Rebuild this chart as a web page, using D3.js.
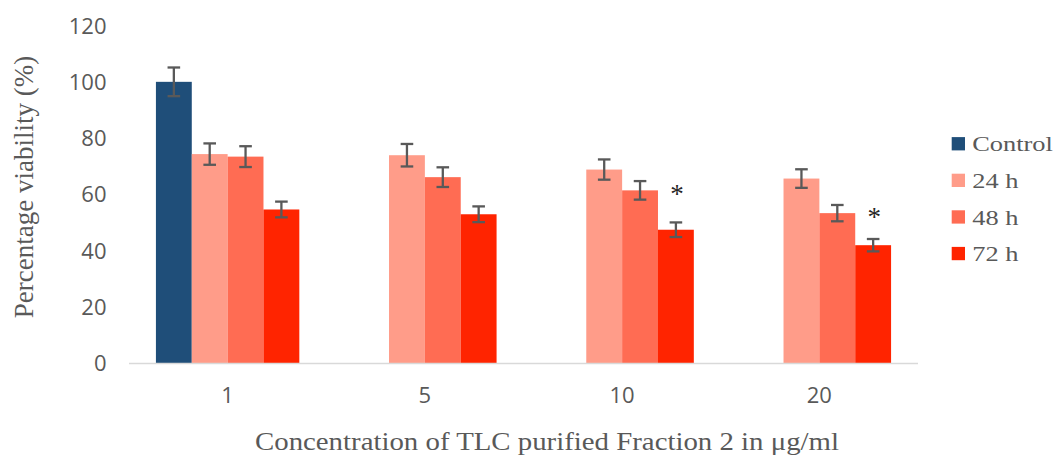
<!DOCTYPE html>
<html>
<head>
<meta charset="utf-8">
<script src="https://cdn.jsdelivr.net/npm/d3@7"></script>
<style>
  html, body { margin: 0; padding: 0; background: #fff; }
  svg { display: block; }
</style>
</head>
<body>
<svg id="chart" width="1057" height="455"></svg>
<script>
// ---- data ----
const categories = ["1", "5", "10", "20"];
const seriesNames = ["Control", "24 h", "48 h", "72 h"];
const controlValues = [100, null, null, null];
const controlErrors = [5.1, null, null, null];
const values24h = [74.3, 73.9, 68.8, 65.6];
const errors24h = [3.8, 4.0, 3.6, 3.3];
const values48h = [73.4, 66.1, 61.4, 53.3];
const errors48h = [3.7, 3.5, 3.3, 2.9];
const values72h = [54.6, 52.9, 47.4, 41.9];
const errors72h = [2.8, 2.8, 2.6, 2.2];
const yTicks = [0, 20, 40, 60, 80, 100, 120];
const sigCategories = ["10", "20"];
const sigSeries = ["72 h", "72 h"];
const sigLevels = [61, 53];
const yTitle = "Percentage viability (%)";
const xTitle = "Concentration of TLC purified Fraction 2 in \u03bcg/ml";
const seriesColors = ["#1F4E79", "#FF9C89", "#FF6C53", "#FF2400"];

const seriesValues = [controlValues, values24h, values48h, values72h];
const seriesErrors = [controlErrors, errors24h, errors48h, errors72h];

const rows = [];
categories.forEach((c, i) => {
  seriesNames.forEach((s, j) => {
    if (seriesValues[j][i] != null) {
      rows.push({ cat: c, series: s, value: seriesValues[j][i], err: seriesErrors[j][i] });
    }
  });
});

// ---- layout ----
const svg = d3.select("#chart");
const plotLeft = 129, plotRight = 918, plotTop = 25.6, plotBottom = 363;
const gray = "#595959";

const y = d3.scaleLinear().domain([0, 120]).range([plotBottom, plotTop]);
const x0 = d3.scaleBand().domain(categories).range([plotLeft, plotRight])
  .paddingInner(0.273).paddingOuter(0.1365);
const x1 = d3.scaleBand().domain(seriesNames).range([0, x0.bandwidth()]).padding(0);
const color = d3.scaleOrdinal().domain(seriesNames).range(seriesColors);

// y tick labels
svg.append("g").selectAll("text").data(yTicks).join("text")
  .attr("x", 106.5)
  .attr("y", d => y(d) + 8)
  .attr("text-anchor", "end")
  .attr("font-family", "'Open Sans', sans-serif")
  .attr("font-size", 22)
  .attr("fill", gray)
  .text(d => d);

// bars
svg.append("g").selectAll("rect").data(rows).join("rect")
  .attr("x", d => x0(d.cat) + x1(d.series))
  .attr("y", d => y(d.value))
  .attr("width", x1.bandwidth())
  .attr("height", d => y(0) - y(d.value))
  .attr("fill", d => color(d.series));

// baseline
svg.append("line")
  .attr("x1", plotLeft).attr("x2", plotRight)
  .attr("y1", y(0) + 0.5).attr("y2", y(0) + 0.5)
  .attr("stroke", "#d9d9d9").attr("stroke-width", 1.6);

// error bars
const eb = svg.append("g").attr("stroke", gray).attr("stroke-width", 2.3).attr("fill", "none");
const capHalf = 6.3;
rows.forEach(d => {
  const cx = x0(d.cat) + x1(d.series) + x1.bandwidth() / 2;
  const yt = y(d.value + d.err), yb = y(d.value - d.err);
  eb.append("line").attr("x1", cx).attr("x2", cx).attr("y1", yt).attr("y2", yb);
  eb.append("line").attr("x1", cx - capHalf).attr("x2", cx + capHalf).attr("y1", yt).attr("y2", yt);
  eb.append("line").attr("x1", cx - capHalf).attr("x2", cx + capHalf).attr("y1", yb).attr("y2", yb);
});

// significance marks
svg.append("g").selectAll("text").data(sigCategories).join("text")
  .attr("x", (d, i) => x0(d) + x1(sigSeries[i]) + x1.bandwidth() / 2 + 1)
  .attr("y", (d, i) => y(sigLevels[i]) + 12)
  .attr("text-anchor", "middle")
  .attr("font-family", "'Liberation Serif', 'Times New Roman', serif")
  .attr("font-size", 27)
  .attr("fill", "#262626")
  .text("*");

// x tick labels
svg.append("g").selectAll("text").data(categories).join("text")
  .attr("x", d => x0(d) + x0.bandwidth() / 2)
  .attr("y", 402.5)
  .attr("text-anchor", "middle")
  .attr("font-family", "'Open Sans', sans-serif")
  .attr("font-size", 22)
  .attr("fill", gray)
  .text(d => d);

function stretch(sel, factor) {
  sel.each(function () {
    const w = this.getComputedTextLength();
    d3.select(this).attr("textLength", w * factor).attr("lengthAdjust", "spacingAndGlyphs");
  });
}

// x axis title
const xt = svg.append("text")
  .attr("x", 547)
  .attr("y", 450)
  .attr("text-anchor", "middle")
  .attr("font-family", "'Liberation Serif', 'Times New Roman', serif")
  .attr("font-size", 25)
  .attr("fill", gray)
  .text(xTitle);
xt.attr("textLength", 584).attr("lengthAdjust", "spacingAndGlyphs");

// y axis title
svg.append("text")
  .attr("transform", "translate(33,187) rotate(-90)")
  .attr("text-anchor", "middle")
  .attr("font-family", "'Liberation Serif', 'Times New Roman', serif")
  .attr("font-size", 27)
  .attr("fill", gray)
  .text(yTitle);

// legend
const legend = svg.append("g");
const legendY0 = 143.8, legendStep = 36.6;
const items = legend.selectAll("g").data(seriesNames).join("g")
  .attr("transform", (d, i) => `translate(951.7,${legendY0 + i * legendStep})`);
items.append("rect")
  .attr("x", 0).attr("y", -6.7)
  .attr("width", 13.3).attr("height", 13.3)
  .attr("fill", d => color(d));
const lt = items.append("text")
  .attr("x", 20.5).attr("y", 7.5)
  .attr("font-family", "'Liberation Serif', 'Times New Roman', serif")
  .attr("font-size", 22)
  .attr("fill", gray)
  .text(d => d);
stretch(lt, 1.2);
</script>
</body>
</html>
